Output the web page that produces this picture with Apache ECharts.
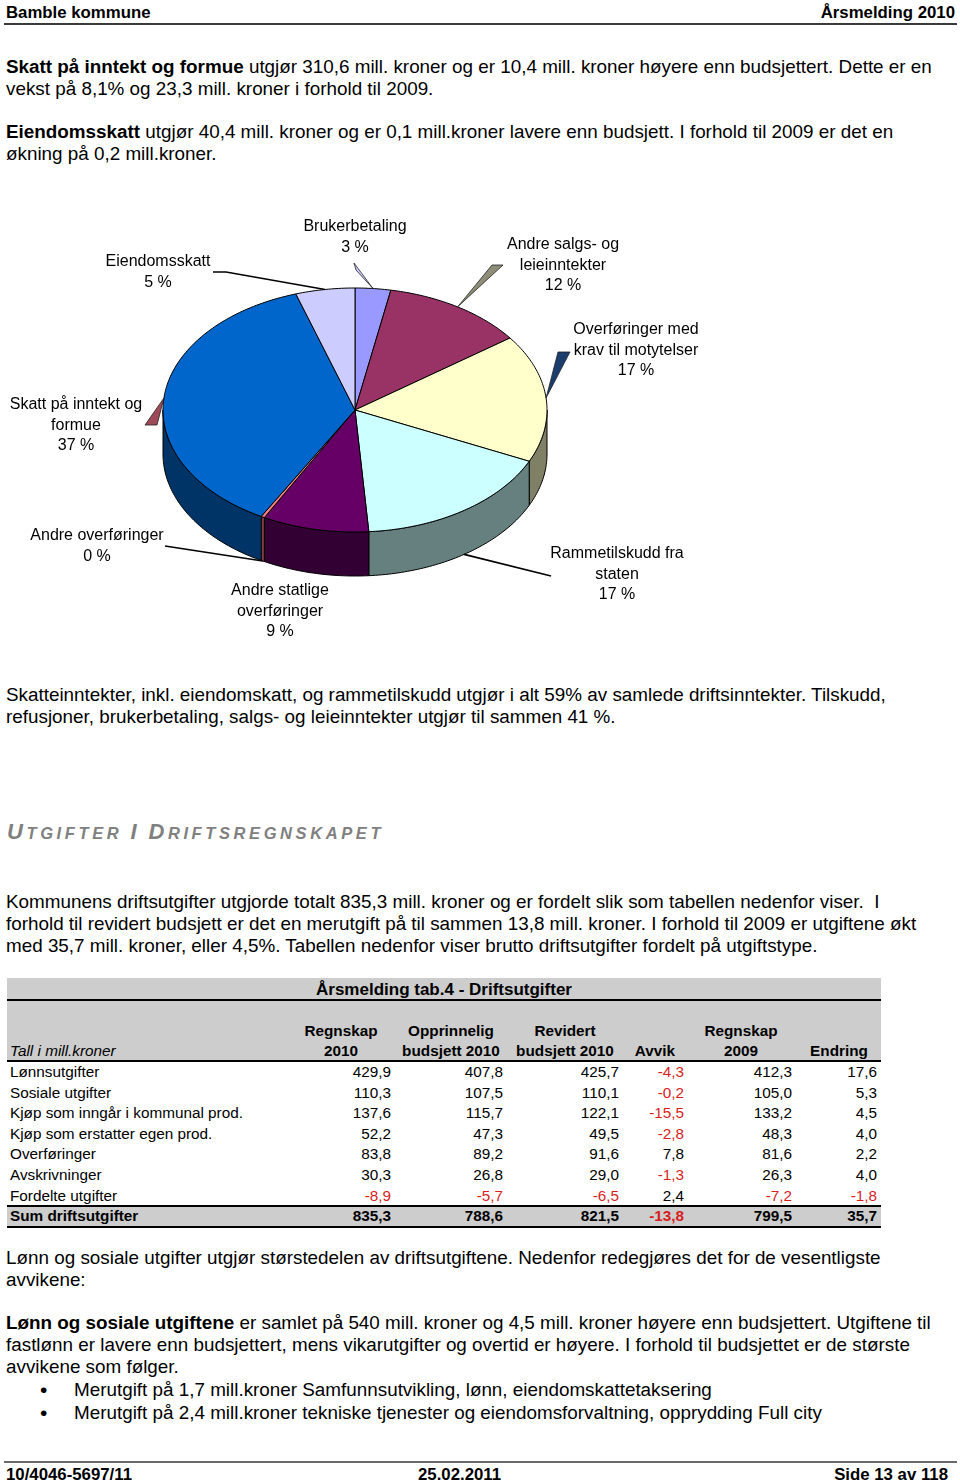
<!DOCTYPE html>
<html>
<head>
<meta charset="utf-8">
<script src="https://cdn.jsdelivr.net/npm/echarts/dist/echarts.min.js"></script>
<style>
html,body{margin:0;padding:0;}
body{width:960px;height:1482px;position:relative;overflow:hidden;background:#fff;color:#000;font-family:"Liberation Sans",Arial,sans-serif;}
.t{position:absolute;left:6px;white-space:nowrap;font-size:18.85px;line-height:22px;}
.hd{position:absolute;top:3px;font-weight:bold;font-size:16.8px;line-height:20px;white-space:nowrap;}
.rule{position:absolute;height:2px;background:#3a3a3a;}
.cell{position:absolute;white-space:nowrap;font-size:15.3px;line-height:20px;height:20px;}
.band{position:absolute;background:#cdcdcd;}
.line{position:absolute;background:#000;height:2px;}
#heading{position:absolute;left:7px;top:819px;white-space:nowrap;color:#808080;font-weight:bold;font-style:italic;letter-spacing:3.6px;line-height:26px;}
#heading .b{font-size:22px;}
#heading .s{font-size:16.5px;}
.bul{position:absolute;left:40px;font-size:21px;line-height:22px;}
</style>
</head>
<body>
<div class="hd" style="left:6px;">Bamble kommune</div>
<div class="hd" style="right:5px;">Årsmelding 2010</div>
<div class="rule" style="left:4px;width:953px;top:23px;"></div>

<div class="t" style="top:56px;"><b>Skatt på inntekt og formue</b> utgjør 310,6 mill. kroner og er 10,4 mill. kroner høyere enn budsjettert. Dette er en<br>vekst på 8,1% og 23,3 mill. kroner i forhold til 2009.</div>
<div class="t" style="top:121px;"><b>Eiendomsskatt</b> utgjør 40,4 mill. kroner og er 0,1 mill.kroner lavere enn budsjett. I forhold til 2009 er det en<br>økning på 0,2 mill.kroner.</div>

<div id="pie" style="position:absolute;left:0;top:190px;width:960px;height:470px;"></div>

<div class="t" style="top:684px;">Skatteinntekter, inkl. eiendomskatt, og rammetilskudd utgjør i alt 59% av samlede driftsinntekter. Tilskudd,<br>refusjoner, brukerbetaling, salgs- og leieinntekter utgjør til sammen 41 %.</div>

<div id="heading"><span class="b">U</span><span class="s">TGIFTER </span><span class="b">I</span><span class="s"> </span><span class="b">D</span><span class="s">RIFTSREGNSKAPET</span></div>

<div class="t" style="top:891px;">Kommunens driftsutgifter utgjorde totalt 835,3 mill. kroner og er fordelt slik som tabellen nedenfor viser.&nbsp; I<br>forhold til revidert budsjett er det en merutgift på til sammen 13,8 mill. kroner. I forhold til 2009 er utgiftene økt<br>med 35,7 mill. kroner, eller 4,5%. Tabellen nedenfor viser brutto driftsutgifter fordelt på utgiftstype.</div>

<div id="table"></div>

<div class="t" style="top:1247px;">Lønn og sosiale utgifter utgjør størstedelen av driftsutgiftene. Nedenfor redegjøres det for de vesentligste<br>avvikene:</div>
<div class="t" style="top:1312px;"><b>Lønn og sosiale utgiftene</b> er samlet på 540 mill. kroner og 4,5 mill. kroner høyere enn budsjettert. Utgiftene til<br>fastlønn er lavere enn budsjettert, mens vikarutgifter og overtid er høyere. I forhold til budsjettet er de største<br>avvikene som følger.</div>
<div class="bul" style="top:1379px;">•</div>
<div class="t" style="top:1379px;left:74px;">Merutgift på 1,7 mill.kroner Samfunnsutvikling, lønn, eiendomskattetaksering</div>
<div class="bul" style="top:1402px;">•</div>
<div class="t" style="top:1402px;left:74px;">Merutgift på 2,4 mill.kroner tekniske tjenester og eiendomsforvaltning, opprydding Full city</div>

<div class="rule" style="left:4px;width:953px;top:1461px;background:#6a6a6a;"></div>
<div class="hd" style="left:6px;top:1465px;">10/4046-5697/11</div>
<div class="hd" style="left:418px;top:1465px;">25.02.2011</div>
<div class="hd" style="right:12px;top:1465px;">Side 13 av 118</div>

<script>
// ---------- Pie data (share of operating income, %) ----------
var pieNames = [
  'Brukerbetaling',
  'Andre salgs- og\nleieinntekter',
  'Overføringer med\nkrav til motytelser',
  'Rammetilskudd fra\nstaten',
  'Andre statlige\noverføringer',
  'Andre overføringer',
  'Skatt på inntekt og\nformue',
  'Eiendomsskatt'
];
var pieValues = [3, 12, 17, 17, 9, 0.3, 37, 5];
var pieColors = ['#9999FF', '#993366', '#FFFFCC', '#CCFFFF', '#660066', '#FF8080', '#0066CC', '#CCCCFF'];

// ---------- Table data (mill. kroner) ----------
var tableTitle = 'Årsmelding tab.4 - Driftsutgifter';
var rowLabels = ['Lønnsutgifter', 'Sosiale utgifter', 'Kjøp som inngår i kommunal prod.', 'Kjøp som erstatter egen prod.', 'Overføringer', 'Avskrivninger', 'Fordelte utgifter'];
var sumLabel = 'Sum driftsutgifter';
var colHeads1 = ['Regnskap', 'Opprinnelig', 'Revidert', '', 'Regnskap', ''];
var colHeads2 = ['2010', 'budsjett 2010', 'budsjett 2010', 'Avvik', '2009', 'Endring'];
var regnskap2010 = [429.9, 110.3, 137.6, 52.2, 83.8, 30.3, -8.9];
var opprinnelig2010 = [407.8, 107.5, 115.7, 47.3, 89.2, 26.8, -5.7];
var revidert2010 = [425.7, 110.1, 122.1, 49.5, 91.6, 29.0, -6.5];
var avvik = [-4.3, -0.2, -15.5, -2.8, 7.8, -1.3, 2.4];
var regnskap2009 = [412.3, 105.0, 133.2, 48.3, 81.6, 26.3, -7.2];
var endring = [17.6, 5.3, 4.5, 4.0, 2.2, 4.0, -1.8];
var sums = [835.3, 788.6, 821.5, -13.8, 799.5, 35.7];

// ---------- Table layout ----------
(function(){
  var T = document.getElementById('table');
  var html = '';
  function box(cls, l, t, w, h, extra){ return '<div class="'+cls+'" style="left:'+l+'px;top:'+t+'px;width:'+w+'px;height:'+h+'px;'+(extra||'')+'"></div>'; }
  var L = 7, R = 881, W = R - L;
  html += box('band', L, 978, W, 83);
  html += box('line', L, 999, W, 2);
  html += box('line', L, 1060, W, 2);
  html += box('band', L, 1207, W, 20);
  html += box('line', L, 1205, W, 2);
  html += box('line', L, 1226, W, 2);
  function txt(s, l, cy, w, align, extra){
    return '<div class="cell" style="left:'+l+'px;top:'+(cy-10)+'px;width:'+w+'px;text-align:'+align+';'+(extra||'')+'">'+s+'</div>';
  }
  function fmt(v){ return v.toFixed(1).replace('.', ','); }
  html += txt(tableTitle, 244, 990, 400, 'center', 'font-weight:bold;font-size:17px;');
  var rightEdges = [391, 503, 619, 684, 792, 877];
  var headCenters = [341, 451, 565, 655, 741, 839];
  for (var c = 0; c < 6; c++) {
    html += txt(colHeads1[c], headCenters[c]-70, 1031, 140, 'center', 'font-weight:bold;');
    html += txt(colHeads2[c], headCenters[c]-70, 1051, 140, 'center', 'font-weight:bold;');
  }
  html += txt('Tall i mill.kroner', 10, 1051, 200, 'left', 'font-style:italic;');
  var cols = [regnskap2010, opprinnelig2010, revidert2010, avvik, regnskap2009, endring];
  for (var r = 0; r < rowLabels.length; r++) {
    var cy = 1072 + r * 20.6;
    html += txt(rowLabels[r], 10, cy, 280, 'left');
    for (var c2 = 0; c2 < 6; c2++) {
      var v = cols[c2][r];
      html += txt(fmt(v), rightEdges[c2]-100, cy, 100, 'right', v < 0 ? 'color:#d81e1e;' : '');
    }
  }
  html += txt(sumLabel, 10, 1216, 280, 'left', 'font-weight:bold;');
  for (var c3 = 0; c3 < 6; c3++) {
    html += txt(fmt(sums[c3]), rightEdges[c3]-100, 1216, 100, 'right', 'font-weight:bold;' + (sums[c3] < 0 ? 'color:#d81e1e;' : ''));
  }
  T.innerHTML = html;
})();

// ---------- Pie (3D-look, drawn with custom series) ----------
var PIE = { cx: 355, cy: 220, rx: 192, ry: 122, depth: 44 };
// label layout (chart-local px): centre x, first-line centre y, leader knee points, leader kind
var labelLayout = [
  { x: 355, y: 37,  leader: 'wedge', pts: [[354, 73], [356, 80]], fill: '#CCCCFF' },
  { x: 563, y: 55,  leader: 'wedge', pts: [[492, 75], [503, 75]], fill: '#8e8e78' },
  { x: 636, y: 140, leader: 'wedge', pts: [[558, 162], [570, 162]], fill: '#1b3d6e' },
  { x: 617, y: 364, leader: 'line',  pts: [[551, 386]] },
  { x: 280, y: 401, leader: 'none',  pts: [] },
  { x: 97,  y: 346, leader: 'line',  pts: [[165, 356]] },
  { x: 76,  y: 215, leader: 'wedge', pts: [[145, 235], [157, 235]], fill: '#9e4a58' },
  { x: 158, y: 72,  leader: 'line',  pts: [[213, 82], [226, 82]] }
];

var total = pieValues.reduce(function(a, b){ return a + b; }, 0);
var cum = [];
pieValues.reduce(function(acc, v, i){ cum[i] = acc; return acc + v; }, 0);

function shade(hex){
  var n = parseInt(hex.slice(1), 16);
  var r = (n >> 16) & 255, g = (n >> 8) & 255, b = n & 255;
  return 'rgb(' + Math.round(r*0.5) + ',' + Math.round(g*0.5) + ',' + Math.round(b*0.5) + ')';
}
function angles(i){
  var a1 = cum[i] / total * 2 * Math.PI;
  var a2 = (cum[i] + pieValues[i]) / total * 2 * Math.PI;
  return [a1, a2];
}
function pt(t, dy){ return [PIE.cx + PIE.rx * Math.sin(t), PIE.cy - PIE.ry * Math.cos(t) + (dy || 0)]; }
function arc(s, e, dy){
  var n = Math.max(2, Math.ceil((e - s) / (Math.PI / 180)));
  var out = [];
  for (var k = 0; k <= n; k++) out.push(pt(s + (e - s) * k / n, dy));
  return out;
}

var chart = echarts.init(document.getElementById('pie'), null, { renderer: 'canvas' });
var seriesData = pieValues.map(function(v, i){ return { name: pieNames[i], value: v }; });

chart.setOption({
  animation: false,
  series: [
    {
      type: 'custom',
      coordinateSystem: 'none',
      data: seriesData,
      z: 2,
      renderItem: function(params, api){
        var i = params.dataIndex;
        var a = angles(i);
        var children = [];
        var lo = Math.max(a[0], Math.PI / 2), hi = Math.min(a[1], 1.5 * Math.PI);
        if (hi > lo) {
          var top = arc(lo, hi, 0), bot = arc(lo, hi, PIE.depth).reverse();
          children.push({ type: 'polygon', shape: { points: top.concat(bot) },
            style: { fill: shade(pieColors[i]), stroke: '#000', lineWidth: 1, lineJoin: 'round' } });
        }
        children.push({ type: 'polygon', shape: { points: [[PIE.cx, PIE.cy]].concat(arc(a[0], a[1], 0)) },
          style: { fill: pieColors[i], stroke: '#000', lineWidth: 1, lineJoin: 'round' } });
        return { type: 'group', children: children };
      }
    },
    {
      type: 'custom',
      coordinateSystem: 'none',
      data: seriesData,
      z: 3,
      renderItem: function(params, api){
        var i = params.dataIndex;
        var a = angles(i);
        var mid = (a[0] + a[1]) / 2;
        var front = mid > Math.PI / 2 && mid < 1.5 * Math.PI;
        var anchor = pt(mid, front ? PIE.depth : 0);
        var lay = labelLayout[i];
        var children = [];
        if (lay.leader === 'line') {
          children.push({ type: 'polyline', shape: { points: lay.pts.concat([anchor]) },
            style: { stroke: '#000', lineWidth: 1.6, fill: null } });
        } else if (lay.leader === 'wedge') {
          children.push({ type: 'polygon', shape: { points: lay.pts.concat([anchor]) },
            style: { fill: lay.fill, stroke: '#222', lineWidth: 0.8 } });
        }
        var pct = Math.round(pieValues[i] / total * 100) + ' %';
        children.push({ type: 'text', style: {
          text: pieNames[i] + '\n' + pct, x: lay.x, y: lay.y - 10.25,
          align: 'center', verticalAlign: 'top', lineHeight: 20.5,
          font: '16px "Liberation Sans", Arial, sans-serif', fill: '#000' } });
        return { type: 'group', children: children };
      }
    }
  ]
});
</script>
</body>
</html>
